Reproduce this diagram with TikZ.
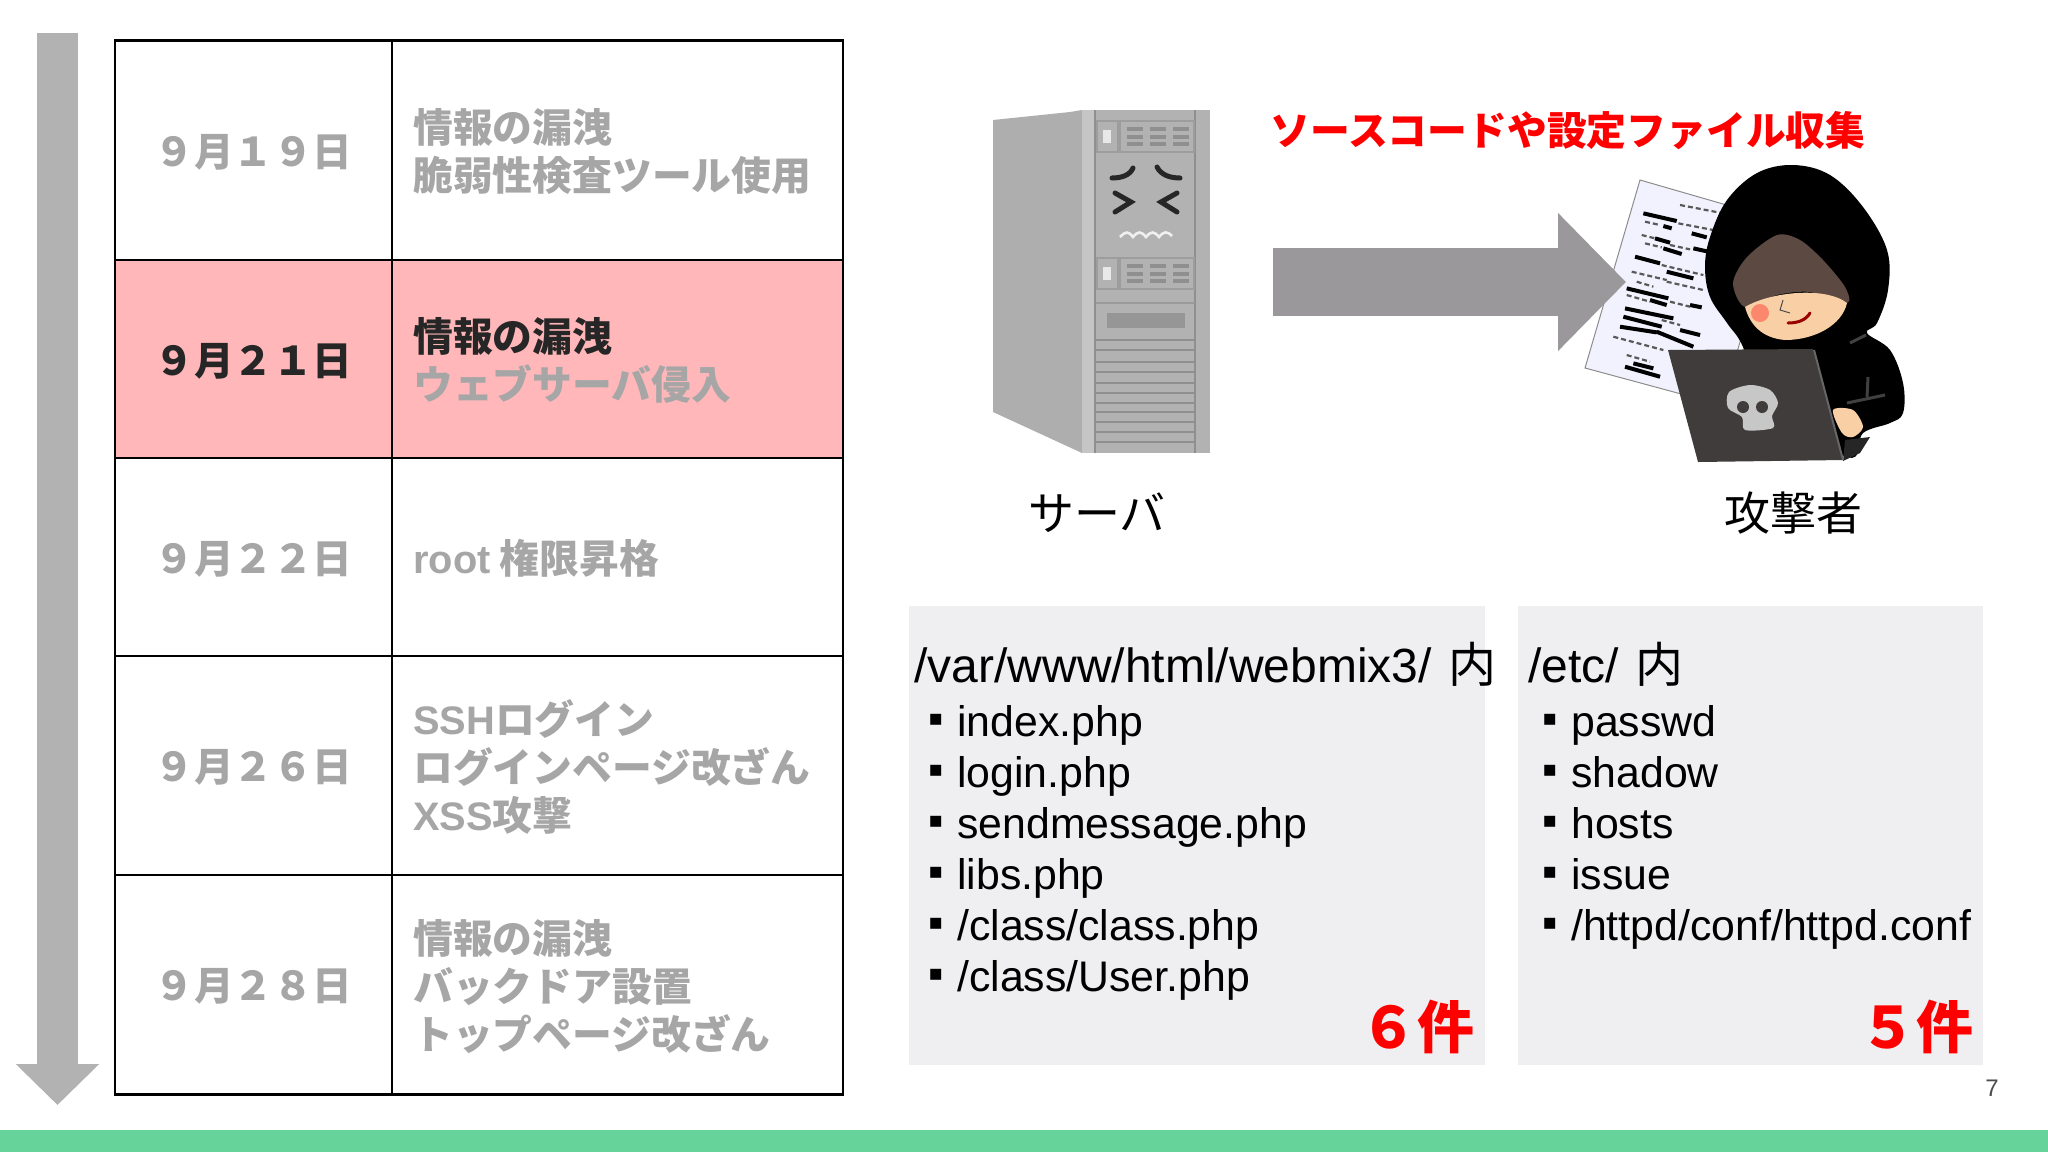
\documentclass[tikz,border=0pt]{standalone}
\usepackage{fontspec}
\setmainfont{Liberation Sans}
\newfontfamily\jp{Noto Sans CJK JP}
\newfontfamily\lat{Liberation Sans}
\newfontfamily\sym{DejaVu Sans}
\usepackage{tikz}
\usetikzlibrary{arrows.meta}
\definecolor{dimtext}{HTML}{A6A6A6}
\definecolor{hotrow}{HTML}{FFB7B9}
\definecolor{boxgrey}{HTML}{EFEFF1}
\definecolor{barcolor}{HTML}{66D39A}
\definecolor{srvside}{HTML}{AEAEAE}
\definecolor{srvfront}{HTML}{B2B2B2}
\definecolor{srvdark}{HTML}{8F8F8F}
\definecolor{arrowgrey}{HTML}{9A989A}
\definecolor{skin}{HTML}{F9CFA6}
\definecolor{hoodin}{HTML}{5C4A42}
\definecolor{lidgrey}{HTML}{3F3C3B}
\tikzstyle{cell}=[rectangle,draw=black,line width=1.2pt,inner sep=0mm]
\tikzstyle{hot}=[fill=hotrow]
\tikzstyle{dateword}=[inner sep=0mm,font=\jp\bfseries\fontsize{19.8}{24}\selectfont,text=dimtext]
\tikzstyle{textword}=[anchor=west,inner sep=0mm,font=\jp\bfseries\fontsize{19.9}{24}\selectfont,text=dimtext,align=left]
\tikzstyle{listbox}=[rectangle,fill=boxgrey,inner sep=0mm,minimum height=229.5pt]
\tikzstyle{listhead}=[anchor=base west,inner sep=0mm,font=\fontsize{24}{28}\selectfont]
\tikzstyle{listitem}=[anchor=base west,inner sep=0mm,font=\fontsize{21.4}{26}\selectfont]
\tikzstyle{total}=[anchor=east,inner sep=0mm,text=red,font=\jp\bfseries\fontsize{28.5}{32}\selectfont]
\tikzstyle{caption}=[inner sep=0mm,font=\jp\fontsize{23}{26}\selectfont]
\tikzstyle{timearrow}=[-{Triangle[length=20.5pt,width=40.5pt]},line width=20.5pt,draw=srvfront]
\tikzstyle{bigarrow}=[-{Triangle[length=34pt,width=67pt]},line width=34pt,draw=arrowgrey]
\newcommand \filedot {\makebox[21.4pt]{\raisebox{5.5pt}{\sym\fontsize{11}{11}\selectfont ▪}}}
\newcommand \bay [1] {
  \fill[srvdark!60!srvfront] (1096,#1) rectangle (1195,#1+33);
  \fill[srvfront] (1098,#1+2) rectangle (1117,#1+31);
  \fill[srvfront] (1121,#1+2) rectangle (1193,#1+31);
  \fill[white!70!srvfront] (1103,#1+10) rectangle (1111,#1+23);
  \foreach \r in {7,15,22} \foreach \c in {1127,1150,1173} {
    \fill[srvdark] (\c,#1+\r) rectangle (\c+16,#1+\r+3.5);
  }
}
\begin{document}
\begin{tikzpicture}[x=0.5pt,y=-0.5pt]
        \useasboundingbox (0,0) rectangle (2048,1152);
        % footer
        \fill[barcolor] (0,1130) rectangle (2048,1152);
        \node[inner sep=0mm,text=black!70,font=\fontsize{12}{14}\selectfont] at (1992,1088) (page) {7};
        % time line
        \coordinate (timetop) at (57.5,33);
        \coordinate (timeend) at (57.5,1105);
        \draw[timearrow] (timetop) -- (timeend);
        % table
        \node[cell,minimum width=138.5pt,minimum height=109.75pt] at (253.5,150.25) (d1) {};
        \node[cell,minimum width=225.5pt,minimum height=109.75pt] at (617.5,150.25) (t1) {};
        \node[cell,hot,minimum width=138.5pt,minimum height=99pt] at (253.5,359) (d2) {};
        \node[cell,hot,minimum width=225.5pt,minimum height=99pt] at (617.5,359) (t2) {};
        \node[cell,minimum width=138.5pt,minimum height=99pt] at (253.5,557) (d3) {};
        \node[cell,minimum width=225.5pt,minimum height=99pt] at (617.5,557) (t3) {};
        \node[cell,minimum width=138.5pt,minimum height=109.5pt] at (253.5,765.5) (d4) {};
        \node[cell,minimum width=225.5pt,minimum height=109.5pt] at (617.5,765.5) (t4) {};
        \node[cell,minimum width=138.5pt,minimum height=109.75pt] at (253.5,984.75) (d5) {};
        \node[cell,minimum width=225.5pt,minimum height=109.75pt] at (617.5,984.75) (t5) {};
        \node[dateword] at ([yshift=-1pt]d1.center) (d1word) {９月１９日};
        \node[textword] at ([xshift=11pt,yshift=-.8pt]t1.west) (t1word) {情報の漏洩\\脆弱性検査ツール使用};
        \node[dateword,text=black!85] at ([yshift=-1pt]d2.center) (d2word) {９月２１日};
        \node[textword] at ([xshift=11pt,yshift=-.8pt]t2.west) (t2word) {{\color{black!85}情報の漏洩}\\ウェブサーバ侵入};
        \node[dateword] at ([yshift=-1pt]d3.center) (d3word) {９月２２日};
        \node[textword] at ([xshift=11pt,yshift=-.8pt]t3.west) (t3word) {{\lat\bfseries root} 権限昇格};
        \node[dateword] at ([yshift=-1pt]d4.center) (d4word) {９月２６日};
        \node[textword] at ([xshift=11pt,yshift=-.8pt]t4.west) (t4word) {{\lat\bfseries SSH}ログイン\\ログインページ改ざん\\{\lat\bfseries XSS}攻撃};
        \node[dateword] at ([yshift=-1pt]d5.center) (d5word) {９月２８日};
        \node[textword] at ([xshift=11pt,yshift=-.8pt]t5.west) (t5word) {情報の漏洩\\バックドア設置\\トップページ改ざん};
        % server
        \fill[srvside] (993,120) -- (1070,112) -- (1082,110) -- (1082,453) -- (993,412) -- cycle;
        \fill[white!25!srvfront] (1082,110) rectangle (1094,453);
        \fill[srvfront] (1094,110) rectangle (1210,453);
        \draw[srvdark,line width=1pt] (1095,110) -- (1095,453);
        \draw[srvdark,line width=1pt] (1195,110) -- (1195,453);
        \bay{120}
        \bay{257}
        \draw[srvdark!70!srvfront,line width=1pt] (1096,303) -- (1195,303);
        \fill[srvdark!80!srvfront] (1107,313) rectangle (1185,328);
        \foreach \v in {340,350,362,372,383,393,403,412,422,432,442} {
          \draw[srvdark,line width=1pt] (1096,\v) -- (1195,\v);
        }
        \draw[line width=2.5pt,line cap=round,black!85] (1133,168) .. controls (1130,175) and (1122,178) .. (1112,178);
        \draw[line width=2.5pt,line cap=round,black!85] (1157,167) .. controls (1161,175) and (1170,178) .. (1180,178);
        \draw[line width=2.5pt,line cap=round,black!85] (1115,193) -- (1131,202) -- (1115,212);
        \draw[line width=2.5pt,line cap=round,black!85] (1177,193) -- (1161,202) -- (1177,212);
        \draw[white!80!srvfront,line width=1.3pt] (1120,237) .. controls (1126,231) and (1128,231) .. (1133,237) .. controls (1138,231) and (1141,231) .. (1146,237) .. controls (1151,231) and (1154,231) .. (1159,237) .. controls (1164,231) and (1167,231) .. (1172,236);
        \node[caption] at (1097,513) (server) {サーバ};
        % paper
        \fill[white!95!blue,draw=black!45,line width=0.5pt] (1640,180) -- (1775,219) -- (1722,405) -- (1585,368) -- cycle;
        \begin{scope}[shift={(1570,150)},x=0.1667pt,y=-0.1667pt]
          \foreach \a/\b/\c/\d in {220/190/320/213,280/228/305/235,365/250/410/262,255/265/300/278,280/295/335/312,370/295/415/305,195/320/270/340,290/365/370/385,170/415/295/445,240/450/290/465,360/465/395/472,165/475/310/505,160/500/275/530,150/530/260/547,260/545/370/590,330/540/390/555,165/650/270/680,190/640/250/655} {
            \draw[black,line width=2pt] (\a,\b) -- (\c,\d);
          }
          \foreach \a/\b/\c/\d in {330/165/460/190,225/215/270/225,325/220/430/240,215/255/255/265,300/285/360/298,225/280/275/292,275/345/400/375,185/365/290/390,290/395/400/420,200/395/250/410,170/435/240/455,300/455/360/470,130/560/280/600,170/615/240/635,275/510/330/525} {
            \draw[black!65,line width=1.1pt,dash pattern=on 2.5pt off 1.5pt] (\a,\b) -- (\c,\d);
          }
        \end{scope}
        % attacker
        \fill[black] plot[smooth cycle,tension=0.6] coordinates {(1793,165) (1757,173) (1727,200) (1710,237) (1705,267) (1710,297) (1727,323) (1743,347) (1760,400) (1847,457) (1863,433) (1890,423) (1903,413) (1903,383) (1890,350) (1867,333) (1877,323) (1888,290) (1887,250) (1863,207) (1830,175)};
        \fill[hoodin] plot[smooth cycle,tension=0.5] coordinates {(1777,235) (1747,257) (1733,283) (1745,307) (1777,295) (1810,292) (1847,303) (1845,287) (1823,260) (1800,240)};
        \fill[skin] (1745,307) .. controls (1770,292) and (1825,286) .. (1847,303) .. controls (1842,325) and (1815,340) .. (1785,340) .. controls (1762,338) and (1750,325) .. (1745,307) -- cycle;
        \fill[red!35!skin] (1760,313) circle [radius=9];
        \draw[black!70,line width=0.5pt] (1783,300) -- (1780,310) -- (1790,313);
        \draw[red!60!black,line width=1.5pt,line cap=round] (1788,323) .. controls (1798,323) and (1806,320) .. (1810,313);
        \draw[black!75,line width=1.5pt] (1850,343) -- (1866,335);
        \draw[black!75,line width=1.5pt] (1868,377) -- (1867,397);
        \draw[black!75,line width=1.5pt] (1847,403) -- (1885,395);
        \fill[skin] plot[smooth cycle] coordinates {(1833,410) (1853,410) (1863,427) (1853,437) (1842,433)};
        \fill[black!85] (1843,461) -- (1860,453) -- (1870,437) -- (1845,440) -- cycle;
        \fill[lidgrey] (1668,350) -- (1813,349) -- (1843,460) -- (1698,462) -- cycle;
        \draw[black!60,line width=1pt] (1814,350) -- (1843,460);
        \fill[black!22] plot[smooth cycle] coordinates {(1750,385) (1770,390) (1778,403) (1772,416) (1773,428) (1745,430) (1742,417) (1728,408) (1729,392)};
        \fill[lidgrey] (1743,407) circle [radius=6];
        \fill[lidgrey] (1762,407) circle [radius=6];
        \node[caption] at (1793,513) (attacker) {攻撃者};
        % red title and arrow
        \node[inner sep=0mm,text=red,font=\jp\bfseries\fontsize{19.9}{24}\selectfont] at (1568,131) (title) {ソースコードや設定ファイル収集};
        \coordinate (srcpt) at (1273,282);
        \coordinate (dstpt) at (1626,282);
        \draw[bigarrow] (srcpt) -- (dstpt);
        % file lists
        \node[listbox,minimum width=288pt] at (1196.5,835.5) (leftbox) {};
        \node[listbox,minimum width=232.5pt] at (1750.5,835.5) (rightbox) {};
        \node[listhead] at (914,682.5) (lefthead) {/var/www/html/webmix3/\hspace{1.5pt} {\jp 内}};
        \node[listitem] at (914,736.5) (l1) {\filedot index.php};
        \node[listitem] at (914,787.5) (l2) {\filedot login.php};
        \node[listitem] at (914,838.5) (l3) {\filedot sendmessage.php};
        \node[listitem] at (914,889.5) (l4) {\filedot libs.php};
        \node[listitem] at (914,940.5) (l5) {\filedot /class/class.php};
        \node[listitem] at (914,991.5) (l6) {\filedot /class/User.php};
        \node[total] at (1475,1027) (leftsum) {６件};
        \node[listhead] at (1528,682.5) (righthead) {/etc/\hspace{1.5pt} {\jp 内}};
        \node[listitem] at (1528,736.5) (r1) {\filedot passwd};
        \node[listitem] at (1528,787.5) (r2) {\filedot shadow};
        \node[listitem] at (1528,838.5) (r3) {\filedot hosts};
        \node[listitem] at (1528,889.5) (r4) {\filedot issue};
        \node[listitem] at (1528,940.5) (r5) {\filedot /httpd/conf/httpd.conf};
        \node[total] at (1974,1027) (rightsum) {５件};
      \end{tikzpicture}
\end{document}
